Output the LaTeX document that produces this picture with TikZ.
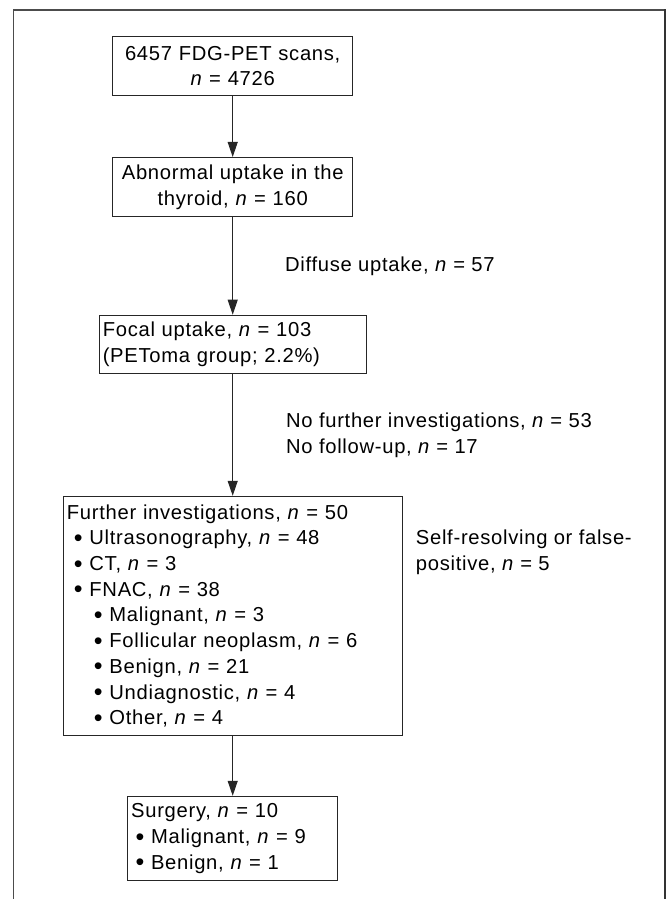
\documentclass[tikz,border=0pt]{standalone}
\usepackage{fontspec}
\setmainfont[LetterSpace=3.5]{Liberation Sans}
\usetikzlibrary{positioning,arrows.meta}
\newcommand{\nn}{\textit{n}}
\newcommand{\bul}{\raisebox{-0.8pt}{\fontsize{12.5}{12.5}\selectfont\textbullet}}

\begin{document}
\begin{tikzpicture}[
    font=\fontsize{10.1}{12.85}\selectfont,
    node distance=30pt,
    box/.style={draw=black!85, line width=0.5pt, inner xsep=1.8pt, inner ysep=0pt, align=left},
    cbox/.style={box, align=center},
    lbl/.style={inner sep=0pt, align=left},
    arr/.style={-{Triangle[length=7.5pt,width=5pt]}, line width=0.5pt, draw=black!85},
]

% Page and frame
\useasboundingbox (0,0) rectangle (334pt,449.5pt);
\draw[black!70, line width=0.6pt] (6.65pt,0) -- (6.65pt,444.5pt) -- (332.5pt,444.5pt);
\draw[black!80, line width=1pt] (332.3pt,444.8pt) -- (332.3pt,0);

% Boxes top-to-bottom
\node[cbox, text width=116.4pt, minimum height=29.5pt, anchor=north] (scans) at (116.35pt,431.5pt) {6457 FDG-PET scans,\\ \nn{} = 4726};
\node[cbox, text width=116.4pt, minimum height=29.5pt, below=30.5pt of scans] (thyroid) {Abnormal uptake in the\\ thyroid, \nn{} = 160};
\node[box, text width=129.9pt, minimum height=29.2pt, below=48.85pt of thyroid] (focal) {Focal uptake, \nn{} = 103\\ (PEToma group; 2.2\%)};
\node[box, text width=165.75pt, minimum height=119.65pt, below=60.85pt of focal] (further) {Further investigations, \nn{} = 50\\
  \hspace*{3.5pt}\bul\ Ultrasonography, \nn{} = 48\\
  \hspace*{3.5pt}\bul\ CT, \nn{} = 3\\
  \hspace*{3.5pt}\bul\ FNAC, \nn{} = 38\\
  \hspace*{13.5pt}\bul\ Malignant, \nn{} = 3\\
  \hspace*{13.5pt}\bul\ Follicular neoplasm, \nn{} = 6\\
  \hspace*{13.5pt}\bul\ Benign, \nn{} = 21\\
  \hspace*{13.5pt}\bul\ Undiagnostic, \nn{} = 4\\
  \hspace*{13.5pt}\bul\ Other, \nn{} = 4};
\node[box, text width=101.55pt, minimum height=42.15pt, below=29.85pt of further] (surgery) {Surgery, \nn{} = 10\\
  \hspace*{2.2pt}\bul\ Malignant, \nn{} = 9\\
  \hspace*{2.2pt}\bul\ Benign, \nn{} = 1};

% Side note
\node[lbl, below right=17pt and 6.5pt of further.north east] (selfres) {Self-resolving or false-\\ positive, \nn{} = 5};

% Arrows
\draw[arr] (scans) -- (thyroid);
\draw[arr] (thyroid) -- node[lbl, right=26pt] (diffuse) {Diffuse uptake, \nn{} = 57} (focal);
\draw[arr] (focal) -- node[lbl, right=26.5pt] (nofurther) {No further investigations, \nn{} = 53\\ No follow-up, \nn{} = 17} (further);
\draw[arr] (further) -- (surgery);

\end{tikzpicture}
\end{document}
